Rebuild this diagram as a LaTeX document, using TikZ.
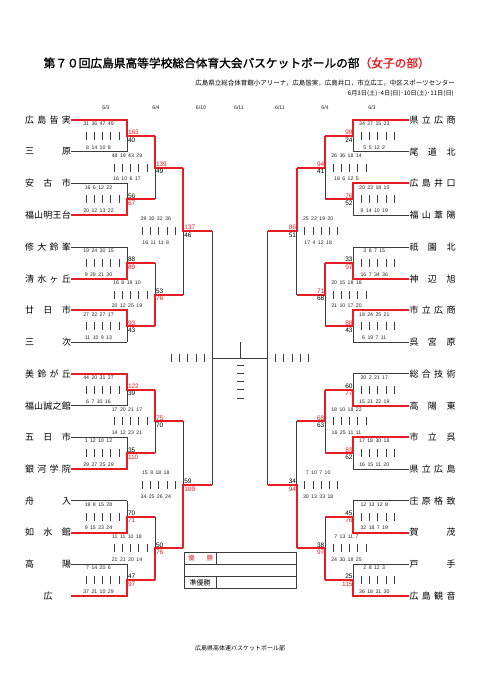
\documentclass[tikz,border=0pt]{standalone}
\usepackage{fontspec}
\setmainfont{Liberation Sans}
\newfontfamily\jp{Noto Sans CJK JP}
\newfontfamily\jpb[FakeBold=1.5]{Noto Sans CJK JP}
\definecolor{rd}{RGB}{230,30,35}
\definecolor{ln}{RGB}{60,60,60}
\newcommand\barsL[1]{\foreach \dd in {0,...,4} \draw[barl] ([shift={({-41+8.25*\dd},-4)}]#1) -- ++(0,8);}
\newcommand\barsR[1]{\foreach \dd in {0,...,4} \draw[barl] ([shift={({8+8.25*\dd},-4)}]#1) -- ++(0,8);}
\newcommand\hf{\hfill{}}
\newcommand\qtxt[1]{{\spaceskip=2.4pt\relax #1}}
\tikzset{
  bk/.style={draw=ln, line width=0.8pt},
  rl/.style={draw=rd, line width=2pt, line join=miter},
  barl/.style={draw=ln, line width=0.8pt},
  boxl/.style={draw=ln, line width=0.7pt},
  team/.style={font=\jp\fontsize{9}{10}\selectfont, inner sep=0pt, text=black},
  qs/.style={font=\fontsize{5.2}{6}\selectfont, inner sep=0pt, text=black!85},
  sc/.style={font=\fontsize{6.5}{7}\selectfont, inner sep=0pt},
  rnd/.style={font=\fontsize{5.2}{6}\selectfont, inner sep=0pt, text=black!85},
}
\begin{document}
\begin{tikzpicture}[x=1pt,y=-1pt]
\fill[white] (0,0) rectangle (481,680);
\useasboundingbox (0,0) rectangle (481,680);

% ---- headings
\node[font=\jpb\fontsize{11.7}{12}\selectfont, inner sep=0pt] (title) at (236.7,63)
  {第７０回広島県高等学校総合体育大会バスケットボールの部\textcolor{rd}{（女子の部）}};
\node[font=\jp\fontsize{6.5}{7}\selectfont, inner sep=0pt, anchor=east] (venue) at (455,83)
  {広島県立総合体育館小アリーナ，広島皆実，広島井口，市立広工，中区スポーツセンター};
\node[font=\jp\fontsize{6.2}{7}\selectfont, inner sep=0pt, anchor=east] (dates) at (454,94)
  {6月3日(土)･4日(日)･10日(土)･11日(日)};
\node[rnd] (d1) at (106,108) {6/3};
\node[rnd] (d2) at (156,108) {6/4};
\node[rnd] (d3) at (201,108) {6/10};
\node[rnd] (d4) at (239,108) {6/11};
\node[rnd] (d5) at (280,108) {6/11};
\node[rnd] (d6) at (325,108) {6/4};
\node[rnd] (d7) at (372,108) {6/3};
\node[font=\jp\fontsize{6}{7}\selectfont, inner sep=0pt] (foot) at (240,648) {広島県高体連バスケットボール部};

% ---- team names
\foreach \i/\n in {0/{広\hf 島\hf 皆\hf 実},1/{三\hf 原},2/{安\hf 古\hf 市},3/{福\hf 山\hf 明\hf 王\hf 台},
  4/{修\hf 大\hf 鈴\hf 峯},5/{清\hf 水\hf ヶ\hf 丘},6/{廿\hf 日\hf 市},7/{三\hf 次},
  8/{美\hf 鈴\hf が\hf 丘},9/{福\hf 山\hf 誠\hf 之\hf 館},10/{五\hf 日\hf 市},11/{銀\hf 河\hf 学\hf 院},
  12/{舟\hf 入},13/{如\hf 水\hf 館},14/{高\hf 陽},15/{\hf 広\hf}}
  \node[team] (L\i) at (48,{120+31.7333*\i}) {\makebox[46pt][s]{\n}};
\foreach \i/\n in {0/{県\hf 立\hf 広\hf 商},1/{尾\hf 道\hf 北},2/{広\hf 島\hf 井\hf 口},3/{福\hf 山\hf 葦\hf 陽},
  4/{祇\hf 園\hf 北},5/{神\hf 辺\hf 旭},6/{市\hf 立\hf 広\hf 商},7/{呉\hf 宮\hf 原},
  8/{総\hf 合\hf 技\hf 術},9/{高\hf 陽\hf 東},10/{市\hf 立\hf 呉},11/{県\hf 立\hf 広\hf 島},
  12/{庄\hf 原\hf 格\hf 致},13/{賀\hf 茂},14/{戸\hf 手},15/{広\hf 島\hf 観\hf 音}}
  \node[team] (R\i) at (432.5,{120+31.7333*\i}) {\makebox[46pt][s]{\n}};

% ---- coordinates
\foreach \i in {0,...,15} {
  \coordinate (la\i) at (127,{120+31.7333*\i});
  \coordinate (ra\i) at (353.3,{120+31.7333*\i});
}
\foreach \k in {0,...,7} {
  \coordinate (lb\k) at (127,{135.8667+63.4667*\k});
  \coordinate (lbn\k) at (155,{135.8667+63.4667*\k});
  \coordinate (rb\k) at (353.3,{135.8667+63.4667*\k});
  \coordinate (rbn\k) at (325,{135.8667+63.4667*\k});
}
\foreach \k in {0,...,3} {
  \coordinate (lc\k) at (155,{167.6+126.9333*\k});
  \coordinate (lcn\k) at (183.3,{167.6+126.9333*\k});
  \coordinate (rc\k) at (325,{167.6+126.9333*\k});
  \coordinate (rcn\k) at (296.7,{167.6+126.9333*\k});
}
\foreach \k in {0,1} {
  \coordinate (ld\k) at (183.3,{231.0667+253.8667*\k});
  \coordinate (ldn\k) at (212.3,{231.0667+253.8667*\k});
  \coordinate (rd\k) at (296.7,{231.0667+253.8667*\k});
  \coordinate (rdn\k) at (267.5,{231.0667+253.8667*\k});
}
\coordinate (le) at (212.3,358);
\coordinate (re) at (267.5,358);
\coordinate (ctr) at (240,358);
\coordinate (ctrtop) at (240,342.3);

% ---- black bracket lines
\foreach \i in {0,...,15} {
  \draw[bk] (L\i.east |- la\i) -- (la\i);
  \draw[bk] (R\i.west |- ra\i) -- (ra\i);
}
\foreach \pa/\pb in {0/1,2/3,4/5,6/7,8/9,10/11,12/13,14/15} {
  \draw[bk] (la\pa) -- (la\pb);
  \draw[bk] (ra\pa) -- (ra\pb);
}
\foreach \k in {0,...,7} { \draw[bk] (lb\k) -- (lbn\k); \draw[bk] (rb\k) -- (rbn\k); }
\foreach \pa/\pb in {0/1,2/3,4/5,6/7} { \draw[bk] (lbn\pa) -- (lbn\pb); \draw[bk] (rbn\pa) -- (rbn\pb); }
\foreach \k in {0,...,3} { \draw[bk] (lc\k) -- (lcn\k); \draw[bk] (rc\k) -- (rcn\k); }
\foreach \pa/\pb in {0/1,2/3} { \draw[bk] (lcn\pa) -- (lcn\pb); \draw[bk] (rcn\pa) -- (rcn\pb); }
\foreach \k in {0,1} { \draw[bk] (ld\k) -- (ldn\k); \draw[bk] (rd\k) -- (rdn\k); }
\draw[bk] (ldn0) -- (ldn1);
\draw[bk] (rdn0) -- (rdn1);
\draw[bk] (le) -- (re);
\draw[bk] (ctr) -- (ctrtop);

% ---- red winner paths
\foreach \k/\w in {0/0,1/3,2/5,3/6,4/8,5/11,6/13,7/15}
  \draw[rl] (L\w.east |- la\w) -- (la\w) -- (lb\k) -- (lbn\k);
\foreach \k/\w in {0/0,1/2,2/5,3/6,4/9,5/10,6/13,7/15}
  \draw[rl] (R\w.west |- ra\w) -- (ra\w) -- (rb\k) -- (rbn\k);
\foreach \k/\jj in {0/0,1/3,2/4,3/7} \draw[rl] (lbn\jj) -- (lc\k) -- (lcn\k);
\foreach \k/\jj in {0/0,1/2,2/4,3/7} \draw[rl] (rbn\jj) -- (rc\k) -- (rcn\k);
\foreach \k/\jj in {0/0,1/3} \draw[rl] (lcn\jj) -- (ld\k) -- (ldn\k);
\foreach \k/\jj in {0/0,1/3} \draw[rl] (rcn\jj) -- (rd\k) -- (rdn\k);

% ---- scores, left
\foreach \k/\sa/\sb/\ca/\cb in {0/163/40/rd/black,1/56/67/black/rd,2/88/89/black/rd,3/93/43/rd/black,
  4/122/39/rd/black,5/35/110/black/rd,6/70/71/black/rd,7/47/97/black/rd} {
  \node[sc,anchor=base west,text=\ca] (ls1a\k) at ([shift={(0.8,-1.2)}]lb\k) {\sa};
  \node[sc,anchor=base west,text=\cb] (ls1b\k) at ([shift={(0.8,6.2)}]lb\k) {\sb};
}
\foreach \k/\sa/\sb/\ca/\cb in {0/139/49/rd/black,1/53/76/black/rd,2/75/70/rd/black,3/50/76/black/rd} {
  \node[sc,anchor=base west,text=\ca] (ls2a\k) at ([shift={(0.8,-1.2)}]lc\k) {\sa};
  \node[sc,anchor=base west,text=\cb] (ls2b\k) at ([shift={(0.8,6.2)}]lc\k) {\sb};
}
\foreach \k/\sa/\sb/\ca/\cb in {0/137/46/rd/black,1/59/109/black/rd} {
  \node[sc,anchor=base west,text=\ca] (ls3a\k) at ([shift={(0.8,-1.2)}]ld\k) {\sa};
  \node[sc,anchor=base west,text=\cb] (ls3b\k) at ([shift={(0.8,6.2)}]ld\k) {\sb};
}
% ---- scores, right
\foreach \k/\sa/\sb/\ca/\cb in {0/99/24/rd/black,1/76/52/rd/black,2/33/97/black/rd,3/88/43/rd/black,
  4/60/77/black/rd,5/83/62/rd/black,6/45/76/black/rd,7/25/115/black/rd} {
  \node[sc,anchor=base east,text=\ca] (rs1a\k) at ([shift={(-0.5,-1.2)}]rb\k) {\sa};
  \node[sc,anchor=base east,text=\cb] (rs1b\k) at ([shift={(-0.5,6.2)}]rb\k) {\sb};
}
\foreach \k/\sa/\sb/\ca/\cb in {0/94/41/rd/black,1/71/68/rd/black,2/68/63/rd/black,3/38/97/black/rd} {
  \node[sc,anchor=base east,text=\ca] (rs2a\k) at ([shift={(-0.5,-1.2)}]rc\k) {\sa};
  \node[sc,anchor=base east,text=\cb] (rs2b\k) at ([shift={(-0.5,6.2)}]rc\k) {\sb};
}
\foreach \k/\sa/\sb/\ca/\cb in {0/86/51/rd/black,1/34/94/black/rd} {
  \node[sc,anchor=base east,text=\ca] (rs3a\k) at ([shift={(-0.5,-1.2)}]rd\k) {\sa};
  \node[sc,anchor=base east,text=\cb] (rs3b\k) at ([shift={(-0.5,6.2)}]rd\k) {\sb};
}

% ---- quarter scores and bars, left
\foreach \k/\qa/\qb in {0/{31 36 47 49}/{8 14 10 8},1/{16 6 12 22}/{20 12 13 22},2/{19 24 30 15}/{9 29 21 30},
  3/{27 22 27 17}/{11 10 9 13},4/{44 20 31 27}/{6 7 10 16},5/{1 12 10 12}/{29 27 25 29},
  6/{19 8 15 28}/{9 15 23 24},7/{7 14 20 6}/{37 21 10 29}} {
  \node[qs] (lq1a\k) at ([shift={(-28.5,-12)}]lb\k) {\qtxt{\qa}};
  \node[qs] (lq1b\k) at ([shift={(-28.5,11.5)}]lb\k) {\qtxt{\qb}};
  \barsL{lb\k}
}
\foreach \k/\qa/\qb in {0/{48 19 43 29}/{16 10 6 17},1/{16 8 19 10}/{20 12 25 19},
  2/{17 20 21 17}/{14 12 23 21},3/{11 11 10 18}/{21 21 20 14}} {
  \node[qs] (lq2a\k) at ([shift={(-28,-12)}]lc\k) {\qtxt{\qa}};
  \node[qs] (lq2b\k) at ([shift={(-28,11.5)}]lc\k) {\qtxt{\qb}};
  \barsL{lc\k}
}
\foreach \k/\qa/\qb in {0/{39 30 32 36}/{16 11 11 8},1/{15 8 18 18}/{34 25 26 24}} {
  \node[qs] (lq3a\k) at ([shift={(-27.5,-12)}]ld\k) {\qtxt{\qa}};
  \node[qs] (lq3b\k) at ([shift={(-27.5,11.5)}]ld\k) {\qtxt{\qb}};
  \barsL{ld\k}
}
\barsL{le}
% ---- quarter scores and bars, right
\foreach \k/\qa/\qb in {0/{34 27 15 23}/{5 5 12 2},1/{20 23 18 15}/{9 14 10 19},2/{3 8 7 15}/{16 7 34 36},
  3/{18 24 25 21}/{6 19 7 11},4/{20 2 21 17}/{15 21 22 19},5/{17 18 30 18}/{16 15 11 20},
  6/{12 13 12 8}/{32 18 7 19},7/{2 8 12 3}/{36 18 31 30}} {
  \node[qs] (rq1a\k) at ([shift={(21,-12)}]rb\k) {\qtxt{\qa}};
  \node[qs] (rq1b\k) at ([shift={(21,11.5)}]rb\k) {\qtxt{\qb}};
  \barsR{rb\k}
}
\foreach \k/\qa/\qb in {0/{26 36 18 14}/{18 6 12 5},1/{20 15 18 18}/{21 10 17 20},
  2/{18 10 18 22}/{16 25 11 11},3/{7 13 11 7}/{24 30 18 25}} {
  \node[qs] (rq2a\k) at ([shift={(21.5,-12)}]rc\k) {\qtxt{\qa}};
  \node[qs] (rq2b\k) at ([shift={(21.5,11.5)}]rc\k) {\qtxt{\qb}};
  \barsR{rc\k}
}
\foreach \k/\qa/\qb in {0/{25 22 19 20}/{17 4 12 18},1/{7 10 7 10}/{30 13 33 18}} {
  \node[qs] (rq3a\k) at ([shift={(21.5,-12)}]rd\k) {\qtxt{\qa}};
  \node[qs] (rq3b\k) at ([shift={(21.5,11.5)}]rd\k) {\qtxt{\qb}};
  \barsR{rd\k}
}
\barsR{re}
% ---- final (rotated bars)
\foreach \dd in {0,...,4} \draw[barl] (236.5,{365+8.25*\dd}) -- (243.5,{365+8.25*\dd});

% ---- result box
\draw[boxl] (184,552.7) rectangle (296,588.3);
\draw[boxl] (184,564.3) -- (296,564.3);
\draw[boxl] (184,576.7) -- (296,576.7);
\draw[boxl] (216,552.7) -- (216,564.3);
\draw[boxl] (216,576.7) -- (216,588.3);
\node[font=\jp\fontsize{6.5}{7}\selectfont, inner sep=0pt, text=rd] (champ) at (200.5,558.5) {\makebox[25pt][s]{優\hf 勝}};
\node[font=\jp\fontsize{7}{8}\selectfont, inner sep=0pt] (second) at (200,582.5) {準優勝};
\end{tikzpicture}
\end{document}
